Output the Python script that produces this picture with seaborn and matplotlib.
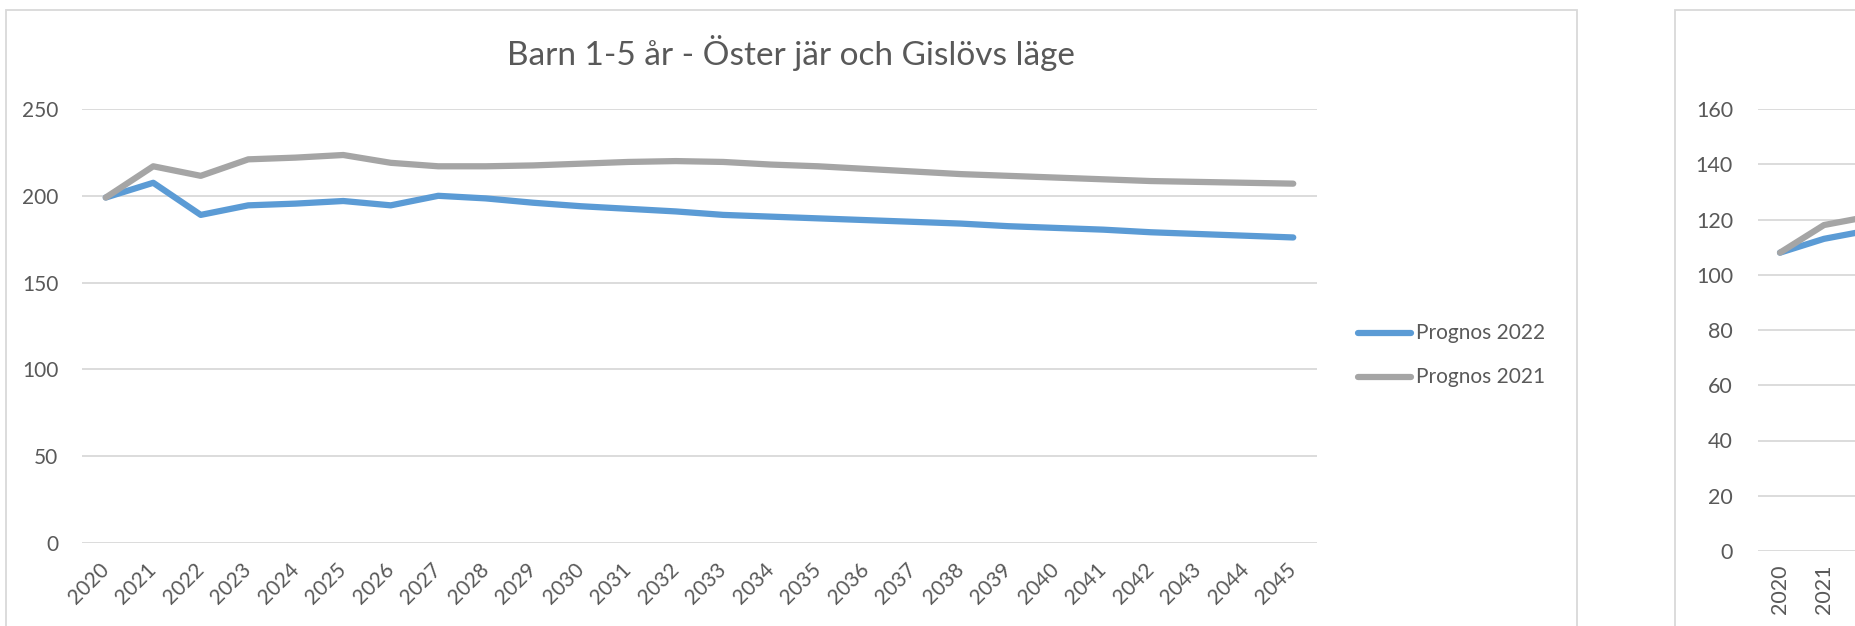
import matplotlib
matplotlib.use("Agg")
import matplotlib.pyplot as plt
from matplotlib.lines import Line2D
from matplotlib.patches import Rectangle
import pandas as pd
import seaborn as sns

# Data - Barn 1-5 år, Öster jär och Gislövs läge
years = ['2020', '2021', '2022', '2023', '2024', '2025', '2026', '2027', '2028',
         '2029', '2030', '2031', '2032', '2033', '2034', '2035', '2036', '2037',
         '2038', '2039', '2040', '2041', '2042', '2043', '2044', '2045']
prognos_2022 = [199, 207.5, 189, 194.5, 195.5, 197, 194.5, 200, 198.5, 196,
                194, 192.5, 191, 189, 188, 187, 186, 185, 184, 182.5,
                181.5, 180.5, 179, 178, 177, 176]
prognos_2021 = [199, 217, 211.5, 221, 222, 223.5, 219, 217, 217, 217.5,
                218.5, 219.5, 220, 219.5, 218, 217, 215.5, 214, 212.5, 211.5,
                210.5, 209.5, 208.5, 208, 207.5, 207]
series_names = ['Prognos 2022', 'Prognos 2021']
colors = ['#5B9BD5', '#A5A5A5']

# second chart (cut off at the right edge)
right_years = ['2020', '2021', '2022']
right_2022 = [108, 113, 116]
right_2021 = [108, 118, 121]

W, H = 1856, 626
TXT = '#595959'
GRID = '#D9D9D9'


def fx(px):
    return px / W


def fy(py):
    return 1 - py / H


sns.set_theme(style='white')
plt.rcParams['font.family'] = ['Lato', 'DejaVu Sans']

fig = plt.figure(figsize=(W / 100, H / 100), dpi=100)
fig.patch.set_facecolor('white')

# chart borders
fig.add_artist(Rectangle((fx(6), fy(660)), fx(1577) - fx(6), fy(10) - fy(660),
                         transform=fig.transFigure, fill=False, ec=GRID, lw=1.3))
fig.add_artist(Rectangle((fx(1675), fy(660)), fx(2600) - fx(1675), fy(10) - fy(660),
                         transform=fig.transFigure, fill=False, ec=GRID, lw=1.3))

# main chart
ax = fig.add_axes([fx(82), fy(543), fx(1317) - fx(82), fy(109) - fy(543)])
df = pd.DataFrame({'year': years * 2,
                   'value': prognos_2022 + prognos_2021,
                   'serie': [series_names[0]] * len(years) + [series_names[1]] * len(years)})
sns.lineplot(data=df, x='year', y='value', hue='serie', hue_order=series_names,
             palette=colors, lw=4.5, sort=False, legend=False, ax=ax,
             solid_capstyle='round', clip_on=False)
ax.set_xlim(-0.5, len(years) - 0.5)
ax.set_ylim(0, 250)
ax.set_yticks(range(0, 251, 50))
ax.grid(axis='y', color=GRID, lw=1.3)
ax.grid(axis='x', visible=False)
ax.set_axisbelow(True)
for s in ax.spines.values():
    s.set_visible(False)
ax.set_xlabel('')
ax.set_ylabel('')
ax.tick_params(length=0, labelsize=15, colors=TXT)
ax.tick_params(axis='y', pad=17)
ax.tick_params(axis='x', pad=17)
plt.setp(ax.get_xticklabels(), rotation=45, ha='right', va='center', rotation_mode='anchor')

fig.text(fx(791), fy(65), 'Barn 1-5 år - Öster jär och Gislövs läge', ha='center',
         va='baseline', fontsize=24, color=TXT)

# legend
for i, name in enumerate(series_names):
    yy = fy(333 + 44 * i)
    fig.add_artist(Line2D([fx(1358), fx(1411)], [yy, yy], transform=fig.transFigure,
                          color=colors[i], lw=4.5, solid_capstyle='round'))
    fig.text(fx(1416), yy, name, ha='left', va='center', fontsize=15, color=TXT)

# right chart
ax2 = fig.add_axes([fx(1758), fy(551), 26 * 44 / W, fy(109) - fy(551)])
df2 = pd.DataFrame({'year': right_years * 2,
                    'value': right_2022 + right_2021,
                    'serie': [series_names[0]] * 3 + [series_names[1]] * 3})
sns.lineplot(data=df2, x='year', y='value', hue='serie', hue_order=series_names,
             palette=colors, lw=4.5, sort=False, legend=False, ax=ax2,
             solid_capstyle='round')
ax2.set_xlim(-0.5, 25.5)
ax2.set_ylim(0, 160)
ax2.set_yticks(range(0, 161, 20))
# only the first two year labels fit inside the picture
ax2.set_xticks([0, 1])
ax2.set_xticklabels(right_years[:2])
ax2.grid(axis='y', color=GRID, lw=1.3)
ax2.grid(axis='x', visible=False)
ax2.set_axisbelow(True)
for s in ax2.spines.values():
    s.set_visible(False)
ax2.set_xlabel('')
ax2.set_ylabel('')
ax2.tick_params(length=0, labelsize=15.5, colors=TXT)
ax2.tick_params(axis='y', pad=18)
ax2.tick_params(axis='x', pad=10)
plt.setp(ax2.get_xticklabels(), rotation=90, ha='center', va='top')

fig.savefig('out.png', dpi=100)
